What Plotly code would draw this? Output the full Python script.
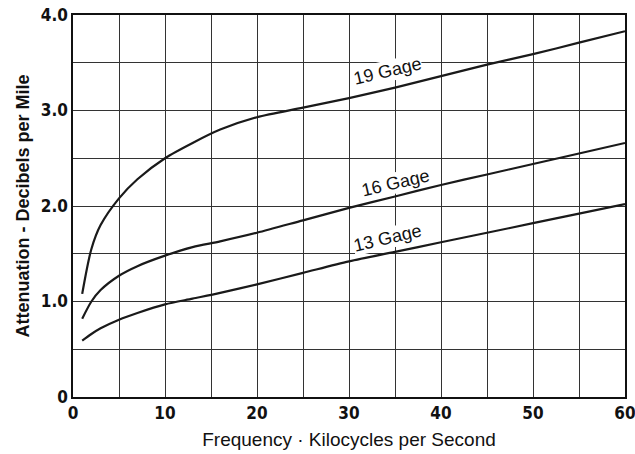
import plotly.graph_objects as go

freq = [1, 2, 3, 5, 7, 10, 13, 16, 20, 25, 30, 35, 40, 45, 50, 55, 60]
gage19 = [1.08, 1.55, 1.8, 2.08, 2.28, 2.5, 2.66, 2.8, 2.93, 3.03, 3.13, 3.24, 3.36, 3.48, 3.59, 3.71, 3.83]
gage16 = [0.82, 1.0, 1.12, 1.27, 1.37, 1.48, 1.57, 1.63, 1.72, 1.85, 1.98, 2.1, 2.22, 2.33, 2.44, 2.55, 2.66]
gage13 = [0.59, 0.66, 0.72, 0.81, 0.88, 0.97, 1.03, 1.09, 1.18, 1.3, 1.42, 1.52, 1.62, 1.72, 1.82, 1.92, 2.02]

labels = ["19 Gage", "16 Gage", "13 Gage"]
label_x = [34.2, 35.0, 34.2]
label_y = [3.41, 2.24, 1.66]

x_ticks = [0, 10, 20, 30, 40, 50, 60]
x_ticktext = ["<b>%d</b>" % v for v in x_ticks]
y_ticks = [0, 1, 2, 3, 4]
y_ticktext = ["<b>0</b>", "<b>1.0</b>", "<b>2.0</b>", "<b>3.0</b>", "<b>4.0</b>"]

font_tick = "DejaVu Sans Condensed, Liberation Sans"
font_text = "Liberation Sans, Arial"

fig = go.Figure()
for ys in (gage19, gage16, gage13):
    fig.add_trace(go.Scatter(x=freq, y=ys, mode="lines",
                             line=dict(color="#1a1a1a", width=2.2, shape="spline", smoothing=0.8),
                             showlegend=False, hoverinfo="skip"))

for t, lx, ly in zip(labels, label_x, label_y):
    fig.add_annotation(x=lx, y=ly, text=t, showarrow=False, textangle=-13,
                       bgcolor="white", borderpad=0,
                       font=dict(family=font_text, size=18, color="#111"))

fig.update_layout(
    width=635, height=454,
    margin=dict(l=73, r=10, t=15, b=57),
    paper_bgcolor="white", plot_bgcolor="white",
    font=dict(family=font_text, color="#111"),
    xaxis=dict(range=[0, 60], tickvals=x_ticks, ticktext=x_ticktext, ticks="",
               showgrid=True, gridcolor="#333", gridwidth=1, automargin=False,
               ticklabeloverflow="allow",
               minor=dict(tickvals=[5, 15, 25, 35, 45, 55], showgrid=True, gridcolor="#333", gridwidth=1),
               showline=True, linecolor="#111", linewidth=1.5, mirror=True,
               zeroline=False, tickfont=dict(size=17, family=font_tick),
               title=dict(text="Frequency · Kilocycles per Second", font=dict(size=19, family=font_text), standoff=11)),
    yaxis=dict(range=[0, 4], tickvals=y_ticks, ticktext=y_ticktext, ticks="",
               showgrid=True, gridcolor="#333", gridwidth=1, automargin=False,
               ticklabeloverflow="allow",
               minor=dict(tickvals=[0.5, 1.5, 2.5, 3.5], showgrid=True, gridcolor="#333", gridwidth=1),
               showline=True, linecolor="#111", linewidth=1.5, mirror=True,
               zeroline=False, tickfont=dict(size=17, family=font_tick),
               title=dict(text="<b>Attenuation - Decibels per Mile</b>", font=dict(size=18, family=font_text), standoff=6)),
)

fig.write_html("out.html", config={"displayModeBar": False},
               post_script="document.body.style.margin='0';document.body.style.padding='0';")
